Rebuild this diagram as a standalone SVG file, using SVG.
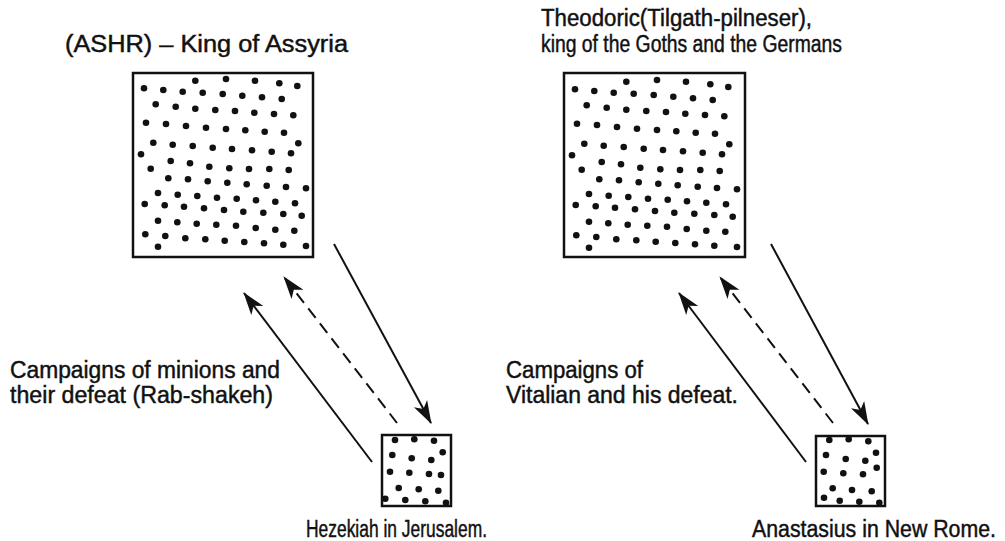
<svg xmlns="http://www.w3.org/2000/svg" xmlns:xlink="http://www.w3.org/1999/xlink" width="1005" height="541" viewBox="0 0 1005 541">
<style>
.lbl{font-family:"Liberation Sans",Arial,sans-serif;font-size:23px;fill:#111;stroke:#111;stroke-width:0.45}
.box{fill:#fff;stroke:#111;stroke-width:2.5}
.dot{fill:#111}
.ln{fill:none;stroke:#111;stroke-width:2}
.dash{stroke-dasharray:12 7}
</style>
<defs>
<marker id="ah" markerUnits="userSpaceOnUse" viewBox="-24 -9 26 18" refX="0" refY="0" markerWidth="26" markerHeight="18" orient="auto">
<path d="M1,0 L-22,-7.5 L-16,0 L-22,7.5 Z" fill="#111"/>
</marker>
<g id="bigdots" class="dot">
<circle cx="195.3" cy="80.7" r="3.3"/><circle cx="226" cy="79" r="3.3"/><circle cx="255" cy="80.7" r="3.3"/><circle cx="279.3" cy="83.3" r="3.3"/><circle cx="297.3" cy="86" r="3.3"/>
<circle cx="144" cy="88.3" r="3.3"/><circle cx="163.3" cy="90" r="3.3"/><circle cx="182.7" cy="91.7" r="3.3"/><circle cx="202.7" cy="92.7" r="3.3"/><circle cx="222.7" cy="94" r="3.3"/><circle cx="242.3" cy="95.7" r="3.3"/><circle cx="262" cy="97.3" r="3.3"/><circle cx="281.7" cy="99" r="3.3"/>
<circle cx="155.7" cy="104.3" r="3.3"/><circle cx="175.7" cy="106.7" r="3.3"/><circle cx="195.3" cy="108.7" r="3.3"/><circle cx="215.3" cy="110" r="3.3"/><circle cx="235" cy="111" r="3.3"/><circle cx="254.3" cy="112.7" r="3.3"/><circle cx="274" cy="114" r="3.3"/><circle cx="293.3" cy="115.3" r="3.3"/>
<circle cx="146" cy="122.7" r="3.3"/><circle cx="166" cy="124" r="3.3"/><circle cx="186" cy="126" r="3.3"/><circle cx="206" cy="127.7" r="3.3"/><circle cx="226" cy="129" r="3.3"/><circle cx="245.3" cy="130.3" r="3.3"/><circle cx="264.7" cy="131.7" r="3.3"/><circle cx="284" cy="132.7" r="3.3"/>
<circle cx="153.3" cy="142.7" r="3.3"/><circle cx="172.7" cy="144.7" r="3.3"/><circle cx="192.7" cy="146" r="3.3"/><circle cx="212.7" cy="147.7" r="3.3"/><circle cx="232" cy="149" r="3.3"/><circle cx="252" cy="150.3" r="3.3"/><circle cx="271.7" cy="151.7" r="3.3"/><circle cx="291" cy="153.3" r="3.3"/><circle cx="298.3" cy="143.3" r="3.3"/><circle cx="141" cy="154.3" r="3.3"/>
<circle cx="150.7" cy="168.7" r="3.3"/><circle cx="170.7" cy="161" r="3.3"/><circle cx="190" cy="163.3" r="3.3"/><circle cx="209.3" cy="166.7" r="3.3"/><circle cx="229.3" cy="168.3" r="3.3"/><circle cx="249" cy="169" r="3.3"/><circle cx="269.3" cy="169" r="3.3"/><circle cx="288.7" cy="170" r="3.3"/>
<circle cx="168.3" cy="178.3" r="3.3"/><circle cx="188" cy="179.3" r="3.3"/><circle cx="207.7" cy="181.3" r="3.3"/><circle cx="227.3" cy="182.7" r="3.3"/><circle cx="246.7" cy="184.3" r="3.3"/><circle cx="266.7" cy="185.7" r="3.3"/><circle cx="286" cy="187" r="3.3"/><circle cx="306" cy="188.3" r="3.3"/>
<circle cx="158" cy="193" r="3.3"/><circle cx="177.7" cy="194.7" r="3.3"/><circle cx="197.3" cy="196" r="3.3"/><circle cx="217" cy="197.7" r="3.3"/><circle cx="236.7" cy="198.7" r="3.3"/><circle cx="256" cy="200.3" r="3.3"/><circle cx="275.3" cy="201.7" r="3.3"/><circle cx="295" cy="203.3" r="3.3"/>
<circle cx="144.7" cy="204" r="3.3"/><circle cx="164.7" cy="205.3" r="3.3"/><circle cx="184" cy="206.7" r="3.3"/><circle cx="204" cy="208.3" r="3.3"/><circle cx="224" cy="210" r="3.3"/><circle cx="243.3" cy="211.7" r="3.3"/><circle cx="263.3" cy="212.7" r="3.3"/><circle cx="283.3" cy="214" r="3.3"/><circle cx="301.7" cy="215.7" r="3.3"/>
<circle cx="158" cy="220.7" r="3.3"/><circle cx="177.3" cy="222.3" r="3.3"/><circle cx="196.7" cy="223.7" r="3.3"/><circle cx="216.3" cy="224.7" r="3.3"/><circle cx="236" cy="225.7" r="3.3"/><circle cx="255.7" cy="228" r="3.3"/><circle cx="275.3" cy="229.7" r="3.3"/><circle cx="294.3" cy="230.7" r="3.3"/>
<circle cx="145.3" cy="234.3" r="3.3"/><circle cx="165.3" cy="236" r="3.3"/><circle cx="185.3" cy="238.3" r="3.3"/><circle cx="205.3" cy="239.3" r="3.3"/><circle cx="224.7" cy="240.7" r="3.3"/><circle cx="244.3" cy="242" r="3.3"/><circle cx="264" cy="243.3" r="3.3"/><circle cx="283.3" cy="244.7" r="3.3"/><circle cx="306" cy="246" r="3.3"/><circle cx="158" cy="246.7" r="3.3"/>
</g>
</defs>
<g id="assyria">
<rect class="box" x="133" y="73" width="180" height="184"/>
<use xlink:href="#bigdots" href="#bigdots"/>
<text class="lbl" x="65" y="52" textLength="283" lengthAdjust="spacingAndGlyphs">(ASHR) – King of Assyria</text>
</g>
<g id="theodoric">
<rect class="box" x="564" y="73" width="181" height="184"/>
<use xlink:href="#bigdots" href="#bigdots" transform="translate(431,1)"/>
<text class="lbl" x="541" y="26" textLength="271" lengthAdjust="spacingAndGlyphs">Theodoric(Tilgath-pilneser),</text>
<text class="lbl" x="541" y="52" textLength="301" lengthAdjust="spacingAndGlyphs">king of the Goths and the Germans</text>
</g>
<g id="hezekiah">
<rect class="box" x="382" y="435" width="69" height="71"/>
<g class="dot">
<circle cx="395" cy="440" r="3.3"/><circle cx="414.3" cy="439.3" r="3.3"/><circle cx="434" cy="440.7" r="3.3"/>
<circle cx="392.3" cy="455" r="3.3"/><circle cx="411.7" cy="458.3" r="3.3"/><circle cx="431.3" cy="460" r="3.3"/><circle cx="442.7" cy="452.3" r="3.3"/>
<circle cx="390" cy="471.7" r="3.3"/><circle cx="409.3" cy="472.7" r="3.3"/><circle cx="429" cy="474" r="3.3"/><circle cx="441" cy="475" r="3.3"/>
<circle cx="398.7" cy="488" r="3.3"/><circle cx="418.7" cy="489.3" r="3.3"/><circle cx="438.3" cy="490.7" r="3.3"/>
<circle cx="385.3" cy="498.7" r="3.3"/><circle cx="405.3" cy="500" r="3.3"/><circle cx="425.3" cy="501.3" r="3.3"/><circle cx="446" cy="502.7" r="3.3"/>
</g>
<text class="lbl" x="306" y="537" textLength="181" lengthAdjust="spacingAndGlyphs">Hezekiah in Jerusalem.</text>
</g>
<g id="anastasius">
<rect class="box" x="816" y="436" width="69" height="70"/>
<g class="dot">
<circle cx="829.3" cy="440" r="3.3"/><circle cx="848.7" cy="439.3" r="3.3"/><circle cx="868.3" cy="441.3" r="3.3"/>
<circle cx="826" cy="455" r="3.3"/><circle cx="845.7" cy="459" r="3.3"/><circle cx="865.3" cy="460.7" r="3.3"/><circle cx="876" cy="452.7" r="3.3"/>
<circle cx="823.7" cy="471.7" r="3.3"/><circle cx="843.3" cy="473.3" r="3.3"/><circle cx="863" cy="474.3" r="3.3"/><circle cx="876.7" cy="467.7" r="3.3"/>
<circle cx="832.7" cy="488.3" r="3.3"/><circle cx="852" cy="490" r="3.3"/><circle cx="871.7" cy="491.3" r="3.3"/>
<circle cx="824" cy="497.7" r="3.3"/><circle cx="839.7" cy="500.7" r="3.3"/><circle cx="859.3" cy="501.7" r="3.3"/><circle cx="879.3" cy="502.7" r="3.3"/>
</g>
<text class="lbl" x="752" y="537" textLength="244" lengthAdjust="spacingAndGlyphs">Anastasius in New Rome.</text>
</g>
<g id="label-left">
<text class="lbl" x="10" y="378" textLength="270" lengthAdjust="spacingAndGlyphs">Campaigns of minions and</text>
<text class="lbl" x="10" y="403" textLength="263" lengthAdjust="spacingAndGlyphs">their defeat (Rab-shakeh)</text>
</g>
<g id="label-right">
<text class="lbl" x="506" y="378" textLength="137" lengthAdjust="spacingAndGlyphs">Campaigns of</text>
<text class="lbl" x="506" y="403" textLength="232" lengthAdjust="spacingAndGlyphs">Vitalian and his defeat.</text>
</g>
<g id="connectors">
<line class="ln" x1="372" y1="462" x2="244" y2="293" marker-end="url(#ah)"/>
<line class="ln dash" x1="397" y1="423" x2="284" y2="277" marker-end="url(#ah)"/>
<line class="ln" x1="334" y1="244" x2="431" y2="423" marker-end="url(#ah)"/>
<line class="ln" x1="806" y1="462" x2="679" y2="293" marker-end="url(#ah)"/>
<line class="ln dash" x1="833" y1="423" x2="720" y2="277" marker-end="url(#ah)"/>
<line class="ln" x1="771" y1="244" x2="868" y2="424" marker-end="url(#ah)"/>
</g>
</svg>
